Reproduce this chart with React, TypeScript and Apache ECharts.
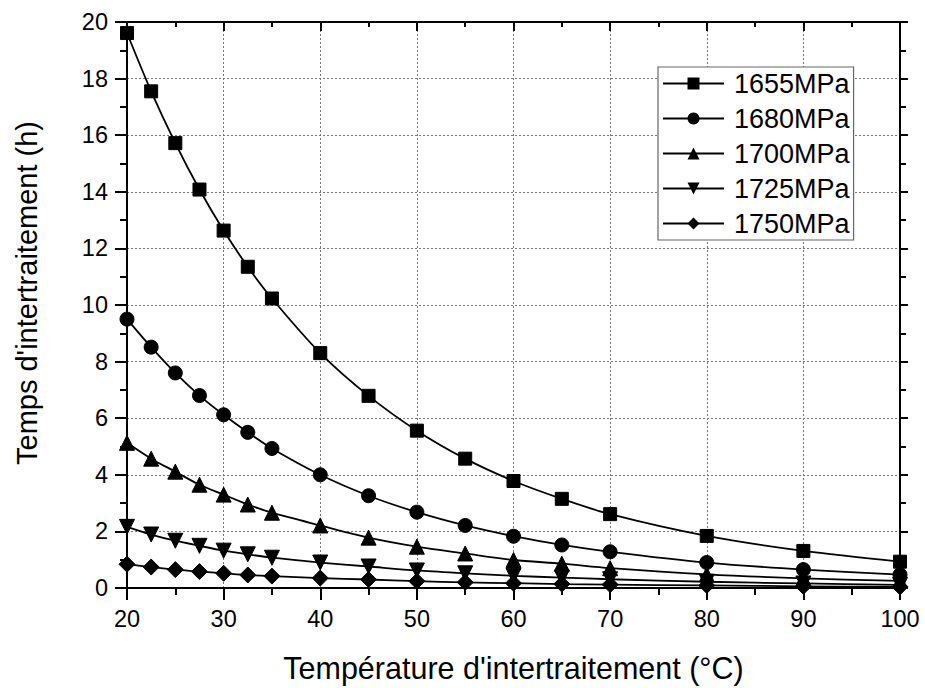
import React, { useEffect, useRef } from "react";
import * as echarts from "echarts";

const temperatures = [20, 22.5, 25, 27.5, 30, 32.5, 35, 40, 45, 50, 55, 60, 65, 70, 80, 90, 100];
const seriesNames = ["1655MPa", "1680MPa", "1700MPa", "1725MPa", "1750MPa"];
const s1655 = [19.61, 17.55, 15.72, 14.08, 12.63, 11.35, 10.23, 8.3, 6.79, 5.56, 4.57, 3.78, 3.15, 2.61, 1.84, 1.31, 0.93];
const s1680 = [9.5, 8.51, 7.6, 6.8, 6.12, 5.5, 4.93, 4.0, 3.26, 2.68, 2.21, 1.83, 1.52, 1.28, 0.9, 0.65, 0.47];
const s1700 = [5.13, 4.57, 4.11, 3.65, 3.3, 2.95, 2.66, 2.21, 1.78, 1.46, 1.22, 0.99, 0.86, 0.7, 0.48, 0.34, 0.25];
const s1725 = [2.16, 1.89, 1.67, 1.49, 1.32, 1.19, 1.07, 0.9, 0.76, 0.62, 0.52, 0.43, 0.37, 0.31, 0.22, 0.16, 0.11];
const s1750 = [0.84, 0.74, 0.65, 0.58, 0.52, 0.46, 0.42, 0.35, 0.3, 0.24, 0.2, 0.17, 0.14, 0.12, 0.09, 0.06, 0.04];
const allValues = [s1655, s1680, s1700, s1725, s1750];

const xTitle = "Température d'intertraitement (°C)";
const yTitle = "Temps d'intertraitement (h)";

const FONT = "'Liberation Sans', Arial, sans-serif";

const symbols = [
  { symbol: "rect", size: 13 },
  { symbol: "circle", size: 14 },
  { symbol: "triangle", size: 15 },
  { symbol: "path://M0,0 L10,0 L5,9 Z", size: 15 },
  { symbol: "diamond", size: 16 },
];

export default function App() {
  const ref = useRef<HTMLDivElement>(null);
  useEffect(() => {
    if (!ref.current) return;
    const chart = echarts.init(ref.current, null, { renderer: "svg" });
    const gridLeft = 127;
    const gridTop = 22;
    const gridRight = 25;
    const gridBottom = 95;

    const baseAxisLine = { show: true, lineStyle: { color: "#000", width: 2 } };
    const option: any = {
      animation: false,
      backgroundColor: "#fff",
      grid: { left: gridLeft, top: gridTop, right: gridRight, bottom: gridBottom, containLabel: false },
      legend: {
        data: seriesNames,
        orient: "vertical",
        left: 658,
        top: 67,
        padding: [3, 4, 3, 4],
        itemWidth: 61,
        itemHeight: 15,
        itemGap: 8,
        borderColor: "#666",
        borderWidth: 1.2,
        backgroundColor: "#fff",
        textStyle: { fontFamily: FONT, fontSize: 27, color: "#000", lineHeight: 27, padding: [0, 0, 0, 5] },
      },
      xAxis: [
        {
          type: "value",
          min: 20,
          max: 100,
          interval: 10,
          position: "bottom",
          axisLine: { ...baseAxisLine, onZero: false },
          axisTick: { show: true, inside: false, length: 12, lineStyle: { color: "#000", width: 2 } },
          minorTick: { show: true, splitNumber: 2, length: 7, lineStyle: { color: "#000", width: 2 } },
          axisLabel: { fontFamily: FONT, fontSize: 23.5, color: "#000", margin: 19 },
          splitLine: { show: true, lineStyle: { color: "#777", type: [2, 2], width: 1 } },
          name: xTitle,
          nameLocation: "middle",
          nameGap: 64,
          nameTextStyle: { fontFamily: FONT, fontSize: 30.5, color: "#000" },
        },
        {
          type: "value",
          min: 20,
          max: 100,
          interval: 10,
          position: "top",
          axisLine: { ...baseAxisLine, onZero: false },
          axisTick: { show: true, inside: true, length: 9, lineStyle: { color: "#000", width: 2 } },
          minorTick: { show: true, splitNumber: 2, length: 5, lineStyle: { color: "#000", width: 2 } },
          axisLabel: { show: false },
          splitLine: { show: false },
        },
      ],
      yAxis: [
        {
          type: "value",
          min: 0,
          max: 20,
          interval: 2,
          position: "left",
          axisLine: { ...baseAxisLine, onZero: false },
          axisTick: { show: true, inside: false, length: 12, lineStyle: { color: "#000", width: 2 } },
          minorTick: { show: true, splitNumber: 2, length: 7, lineStyle: { color: "#000", width: 2 } },
          axisLabel: { fontFamily: FONT, fontSize: 23.5, color: "#000", margin: 19 },
          splitLine: { show: true, lineStyle: { color: "#777", type: [2, 2], width: 1 } },
        },
        {
          type: "value",
          min: 0,
          max: 20,
          interval: 2,
          position: "right",
          axisLine: { ...baseAxisLine, onZero: false },
          axisTick: { show: true, inside: false, length: 8, lineStyle: { color: "#000", width: 2 } },
          minorTick: { show: true, splitNumber: 2, length: 6, lineStyle: { color: "#000", width: 2 } },
          axisLabel: { show: false },
          splitLine: { show: false },
        },
      ],
      graphic: [
        {
          type: "text",
          x: 27,
          y: 293,
          rotation: Math.PI / 2,
          style: {
            text: yTitle,
            fontFamily: FONT,
            fontSize: 29,
            fill: "#000",
            align: "center",
            verticalAlign: "middle",
          },
        },
      ],
      series: seriesNames.map((name, i) => ({
        name,
        type: "line",
        xAxisIndex: 0,
        yAxisIndex: 0,
        data: temperatures.map((t, j) => [t, allValues[i][j]]),
        smooth: 0.3,
        symbol: symbols[i].symbol,
        symbolSize: symbols[i].size,
        showAllSymbol: true,
        clip: false,
        lineStyle: { color: "#000", width: 1.8 },
        itemStyle: { color: "#000", borderColor: "#000" },
        emphasis: { disabled: true },
        z: 3 + i,
      })),
    };
    chart.setOption(option);
    return () => chart.dispose();
  }, []);
  return <div ref={ref} style={{ width: 925, height: 688, position: "absolute", left: 0, top: 0 }} />;
}
